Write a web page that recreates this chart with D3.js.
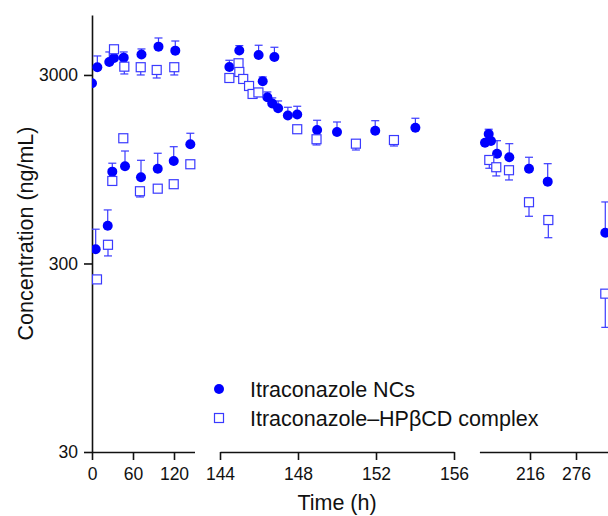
<!DOCTYPE html>
<html>
<head>
<meta charset="utf-8">
<script src="https://cdn.jsdelivr.net/npm/d3@7"></script>
<style>
  html, body { margin: 0; padding: 0; background: #fff; }
  svg { display: block; font-family: "Liberation Sans", Arial, sans-serif; }
</style>
</head>
<body>
<div class="chart"></div>
<script>
// ---- data ----
const seriesNames = ["Itraconazole NCs", "Itraconazole\u2013HP\u03B2CD complex"];
const yTicks = [30, 300, 3000];
const panelTicks = [[0, 60, 120], [144, 148, 152, 156], [216, 276]];

// nanocrystals (filled circles), error bars go up
const ncPanel = [0,0,0,0,0,0,0,0, 0,0,0,0,0,0,0,0,
                 1,1,1,1,1,1,1,1,1,1,1,1,1,1,
                 2,2,2,2,2,2,2,2];
const ncTime = [0, 7.8, 25.3, 32.2, 46.4, 72.4, 97.3, 121.9,
                5.4, 23, 29.7, 48.3, 71.7, 96.2, 119.6, 143.9,
                144.48, 144.99, 145.98, 146.79, 146.19, 146.43, 146.68, 146.98, 147.48, 147.96, 148.98, 150, 151.96, 154.02,
                157.3, 162.1, 165.1, 173, 189, 214.7, 239.1, 314.2];
const ncConc = [2712, 3298, 3517, 3694, 3706, 3855, 4239, 4038,
                357, 476, 921, 984, 860, 955, 1049, 1287,
                3308, 4047, 3830, 3738, 2778, 2285, 2117, 1997, 1829, 1852, 1532, 1495, 1519, 1576,
                1312, 1459, 1340, 1147, 1098, 955, 815, 437];
const ncSD =   [0, 486, 456, 0, 267, 267, 474, 504,
                99, 101, 100, 201, 198, 198, 200, 185,
                282, 245, 483, 470, 150, 153, 150, 187, 193, 195, 193, 194, 197, 192,
                0, 87, 0, 197, 198, 143, 200, 199];

// HPbCD complex (open squares), error bars go down
const cdPanel = [0,0,0,0,0, 0,0,0,0,0,0,0,0,
                 1,1,1,1,1,1,1,1,1,1,1,
                 2,2,2,2,2,2];
const cdTime = [32.2, 47.3, 71.3, 94.7, 120.4,
                7.3, 23.4, 29.7, 45.8, 70.2, 96.2, 119.6, 143.9,
                144.48, 144.95, 144.99, 145.19, 145.49, 145.67, 145.97, 147.96, 148.95, 150.97, 152.92,
                162.9, 172, 188.6, 214.7, 239.9, 314.2];
const cdConc = [4106, 3320, 3298, 3188, 3298,
                247, 377, 822, 1385, 725, 748, 790, 1008,
                2891, 3461, 3112, 2857, 2622, 2379, 2423, 1546, 1368, 1296, 1355,
                1062, 972, 937, 634, 510, 207.5];
const cdSD =   [0, 283, 298, 297, 298,
                0, 48, 0, 0, 49, 30, 20, 0,
                40, 0, 0, 0, 0, 0, 0, 0, 92, 96, 95,
                102, 98, 105, 100, 99, 70];

// ---- layout ----
const W = 608, H = 516;
const axisY = 452, axisX = 92, axisTop = 15;
const font = "\"Liberation Sans\", Arial, sans-serif";
const blue = "#0000ff", barBlue = "#3a3aff";

const panels = [
  { domain: [0, 150],   range: [92, 194.5] },
  { domain: [144, 156], range: [220, 454] },
  { domain: [150, 318], range: [479.4, 608.2] }
];
const xs = panels.map(p => d3.scaleLinear().domain(p.domain).range(p.range));
const y = d3.scaleLog().domain([30, 6240]).range([axisY, axisTop]);

const svg = d3.select(".chart").append("svg")
  .attr("width", W).attr("height", H)
  .attr("viewBox", `0 0 ${W} ${H}`);

svg.append("defs").append("clipPath").attr("id", "plot")
  .append("rect").attr("x", axisX).attr("y", 0).attr("width", W - axisX).attr("height", axisY);

// ---- axes ----
svg.append("g")
  .attr("transform", `translate(${axisX},0)`)
  .call(d3.axisLeft(y).tickValues(yTicks).tickFormat(d3.format("d"))
    .tickSize(8).tickPadding(6).tickSizeOuter(0));

panels.forEach((p, i) => {
  svg.append("g")
    .attr("transform", `translate(0,${axisY})`)
    .call(d3.axisBottom(xs[i]).tickValues(panelTicks[i]).tickFormat(d3.format("d"))
      .tickSize(8).tickPadding(8).tickSizeOuter(0));
});

svg.selectAll(".domain, .tick line").attr("stroke", "#111").attr("stroke-width", 1.6);
svg.selectAll(".tick text").attr("font-family", font).attr("font-size", 17.5).attr("fill", "#111");

svg.append("text")
  .attr("transform", "translate(33,233.5) rotate(-90)")
  .attr("text-anchor", "middle")
  .attr("font-family", font).attr("font-size", 21.5).attr("fill", "#111")
  .text("Concentration (ng/mL)");

svg.append("text")
  .attr("x", 337).attr("y", 510)
  .attr("text-anchor", "middle")
  .attr("font-family", font).attr("font-size", 21.5).attr("fill", "#111")
  .text("Time (h)");

// ---- marks ----
const nc = ncTime.map((t, i) => ({ p: ncPanel[i], t: t, v: ncConc[i], e: ncSD[i] }));
const cd = cdTime.map((t, i) => ({ p: cdPanel[i], t: t, v: cdConc[i], e: cdSD[i] }));

const plot = svg.append("g").attr("clip-path", "url(#plot)");
const cap = 4;

function errorBars(data, dir) {
  const g = plot.append("g").attr("stroke", barBlue).attr("stroke-width", 1.2).attr("fill", "none");
  data.filter(d => d.e > 0).forEach(d => {
    const x = xs[d.p](d.t);
    const yEnd = y(d.v + dir * d.e);
    g.append("line").attr("x1", x).attr("x2", x).attr("y1", y(d.v)).attr("y2", yEnd);
    g.append("line").attr("x1", x - cap).attr("x2", x + cap).attr("y1", yEnd).attr("y2", yEnd);
  });
}

errorBars(cd, -1);
errorBars(nc, 1);

plot.append("g").selectAll("circle")
  .data(nc).join("circle")
  .attr("cx", d => xs[d.p](d.t))
  .attr("cy", d => y(d.v))
  .attr("r", 5)
  .attr("fill", blue);

const sq = 9;
plot.append("g").selectAll("rect")
  .data(cd).join("rect")
  .attr("x", d => xs[d.p](d.t) - sq / 2)
  .attr("y", d => y(d.v) - sq / 2)
  .attr("width", sq).attr("height", sq)
  .attr("fill", "#fff")
  .attr("stroke", barBlue)
  .attr("stroke-width", 1.2);

// ---- legend ----
const legend = svg.append("g").attr("transform", "translate(219,389)");
legend.append("circle").attr("cx", 0).attr("cy", 0).attr("r", 5).attr("fill", blue);
legend.append("rect").attr("x", -sq / 2).attr("y", 29 - sq / 2).attr("width", sq).attr("height", sq)
  .attr("fill", "#fff").attr("stroke", barBlue).attr("stroke-width", 1.2);
legend.selectAll("text")
  .data(seriesNames).join("text")
  .attr("x", 31)
  .attr("y", (d, i) => i * 29)
  .attr("dy", "0.35em")
  .attr("font-family", font).attr("font-size", 21.5).attr("fill", "#111")
  .text(d => d);
</script>
</body>
</html>
